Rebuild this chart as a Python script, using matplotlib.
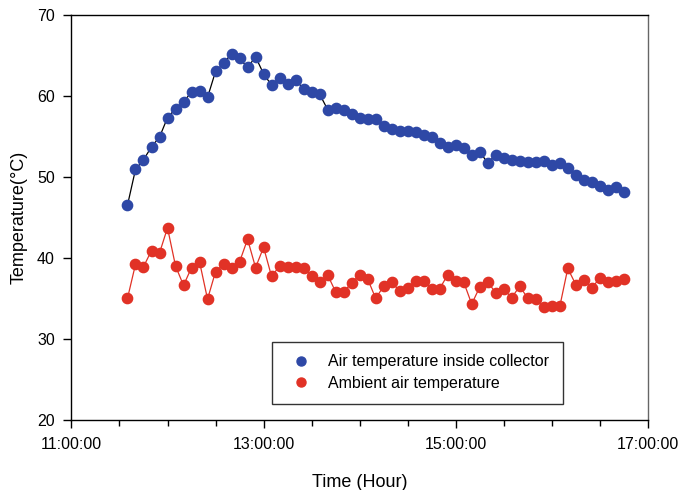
import pandas as pd
import matplotlib
matplotlib.use("Agg")
import matplotlib.pyplot as plt
import matplotlib.dates as mdates
from matplotlib.lines import Line2D

plt.rcParams['font.family'] = ['Liberation Sans', 'DejaVu Sans']

# readings every 5 minutes
start_time = "2000-01-01 11:35"
n_points = 63

collector_temp = [46.5, 50.9, 52.1, 53.7, 54.9, 57.3, 58.4, 59.2, 60.5, 60.6,
                  59.8, 63.0, 64.0, 65.2, 64.6, 63.5, 64.8, 62.7, 61.3, 62.2,
                  61.5, 62.0, 60.8, 60.5, 60.2, 58.3, 58.5, 58.2, 57.8, 57.2,
                  57.1, 57.1, 56.3, 55.9, 55.7, 55.6, 55.5, 55.2, 54.9, 54.2,
                  53.7, 53.9, 53.5, 52.7, 53.1, 51.7, 52.7, 52.3, 52.1, 51.9,
                  51.8, 51.8, 52.0, 51.4, 51.7, 51.1, 50.2, 49.6, 49.3, 48.9,
                  48.4, 48.8, 48.1]

ambient_temp = [35.0, 39.2, 38.9, 40.9, 40.6, 43.7, 39.0, 36.6, 38.8, 39.5,
                34.9, 38.3, 39.2, 38.7, 39.5, 42.3, 38.8, 41.3, 37.7, 39.0,
                38.9, 38.9, 38.8, 37.7, 37.0, 37.9, 35.8, 35.8, 36.9, 37.9,
                37.4, 35.0, 36.5, 37.0, 35.9, 36.3, 37.1, 37.2, 36.1, 36.2,
                37.9, 37.1, 37.0, 34.3, 36.4, 37.0, 35.7, 36.1, 35.1, 36.5,
                35.0, 34.9, 33.9, 34.1, 34.0, 38.7, 36.7, 37.3, 36.3, 37.5,
                37.0, 37.2, 37.4]

labels = ["Air temperature inside collector", "Ambient air temperature"]

times = pd.date_range(start_time, periods=n_points, freq="5min")

blue = "#2e48a6"
red = "#e13226"

fig = plt.figure(figsize=(6.87, 4.9), dpi=100)
ax = fig.add_axes([0.104, 0.143, 0.839, 0.827])

ax.plot(times, collector_temp, color="black", lw=0.9, marker="o", ms=7.4,
        mfc=blue, mec=blue, zorder=3)
ax.plot(times, ambient_temp, color=red, lw=0.9, marker="o", ms=7.4,
        mfc=red, mec=red, zorder=3)

ax.set_xlim(pd.Timestamp("2000-01-01 11:00"), pd.Timestamp("2000-01-01 17:00"))
ax.set_ylim(20, 70)
ax.set_yticks(range(20, 71, 10))
ax.xaxis.set_major_locator(mdates.HourLocator(byhour=[11, 13, 15, 17]))
ax.xaxis.set_minor_locator(mdates.MinuteLocator(byminute=[0, 30]))
ax.xaxis.set_major_formatter(mdates.DateFormatter("%H:%M:%S"))

ax.tick_params(axis="both", which="major", direction="out", length=6, width=1,
               labelsize=11.5, pad=6)
ax.tick_params(axis="x", which="minor", direction="out", length=4, width=1)
for s in ax.spines.values():
    s.set_linewidth(1)
ax.spines["right"].set_color("#666666")

ax.set_xlabel("Time (Hour)", fontsize=13, labelpad=16)
ax.set_ylabel("Temperature(\u00b0C)", fontsize=13, labelpad=7)

handles = [Line2D([], [], ls="none", marker="o", ms=6.5, mfc=blue, mec=blue),
           Line2D([], [], ls="none", marker="o", ms=6.5, mfc=red, mec=red)]
leg = ax.legend(handles, labels, loc="upper left", mode="expand",
                bbox_to_anchor=(0.348, 0.0, 0.505, 0.193), fontsize=11.5,
                frameon=True, fancybox=False, edgecolor="black",
                borderpad=0.8, handletextpad=0.7, labelspacing=0.4,
                borderaxespad=0)
leg.get_frame().set_linewidth(1)

fig.savefig("out.png", dpi=100)
